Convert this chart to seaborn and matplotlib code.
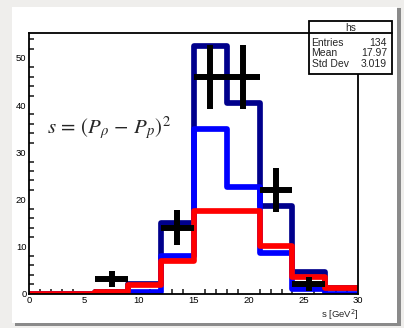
import numpy as np
import matplotlib
matplotlib.use("Agg")
import matplotlib.pyplot as plt
import seaborn as sns
from matplotlib.patches import Rectangle
from matplotlib.ticker import MultipleLocator

# ---- data ----
bin_edges = [0, 3, 6, 9, 12, 15, 18, 21, 24, 27, 30]
bin_centers = [1.5, 4.5, 7.5, 10.5, 13.5, 16.5, 19.5, 22.5, 25.5, 28.5]
total_counts = [0, 0, 0.4, 2.1, 15, 52.5, 40.5, 18.5, 4.5, 1.2]
blue_counts = [0, 0, 0, 0.4, 8, 35, 22.5, 8.5, 1, 0]
red_counts = [0, 0, 0.4, 1.7, 7, 17.5, 17.5, 10, 3.5, 1.2]
data_x = [7.5, 13.5, 16.5, 19.5, 22.5, 25.5]
data_y = [3, 14, 46, 46, 22, 2]
data_yerr = [1.7, 3.7, 6.8, 6.8, 4.7, 1.4]
data_xerr = [1.5, 1.5, 1.5, 1.5, 1.5, 1.5]
stat_labels = ["Entries", "Mean", "Std Dev"]
stat_values = ["134", "17.97", "3.019"]
x_ticks = [0, 5, 10, 15, 20, 25, 30]
y_ticks = [0, 10, 20, 30, 40, 50]

sns.set_style("white")
plt.rcParams['font.family'] = ['Liberation Sans', 'DejaVu Sans']

W, H = 404, 328
fig = plt.figure(figsize=(W / 100, H / 100), dpi=100)
fig.patch.set_facecolor("#efeeec")

# card with shadow
fig.patches.append(Rectangle((15 / W, 1 - 326 / H), 386 / W, 318 / H,
                             transform=fig.transFigure, facecolor="#8a8a8a",
                             edgecolor="none", zorder=-2))
fig.patches.append(Rectangle((12 / W, 1 - 323 / H), 385 / W, 316 / H,
                             transform=fig.transFigure, facecolor="white",
                             edgecolor="none", zorder=-1))

ax = fig.add_axes([29.3 / W, 1 - 293.5 / H, (358.3 - 29.3) / W, (293.5 - 32.5) / H])
ax.set_zorder(1)
ax.set_facecolor("none")

lw = 4.1
for counts, col in [(total_counts, "#00008c"), (blue_counts, "#0000ff"), (red_counts, "#ff0000")]:
    sns.histplot(x=bin_centers, weights=counts, bins=bin_edges, element="step",
                 fill=False, color=col, linewidth=lw, ax=ax)

ax.errorbar(data_x, data_y, xerr=data_xerr, yerr=data_yerr, fmt="none",
            ecolor="black", elinewidth=4.3, capsize=0, zorder=5)

ax.set_xlim(0, 30)
ax.set_ylim(0, 55.4)
ax.set_ylabel("")
ax.set_xlabel("")
ax.set_xticks(x_ticks)
ax.set_yticks(y_ticks)
ax.xaxis.set_minor_locator(MultipleLocator(1))
ax.yaxis.set_minor_locator(MultipleLocator(2))
ax.tick_params(axis="both", which="major", direction="in", length=7, width=1.2,
               labelsize=6.8, colors="black", pad=2, top=False, right=False)
ax.tick_params(axis="both", which="minor", direction="in", length=3.5, width=1.2,
               top=False, right=False, bottom=True, left=True)
ax.tick_params(axis="x", which="major", pad=1.5)
ax.tick_params(axis="y", which="major", pad=2)
for s in ax.spines.values():
    s.set_visible(True)
    s.set_color("black")
    s.set_linewidth(1.3)

ax.text(1.0, -0.055, r"s [GeV$^{2}$]", transform=ax.transAxes, ha="right",
        va="top", fontsize=6.8)

fig.text(47 / W, 1 - 128 / H, r"$s\,=\,(P_{\rho}\,-\,P_{p})^{2}$",
         ha="left", va="center", fontsize=15, math_fontfamily="stix", zorder=12)

# stats box
bx0, bx1, by0, by1 = 309, 391.5, 21, 73.5
fig.patches.append(Rectangle((bx0 / W, 1 - by1 / H), (bx1 - bx0) / W, (by1 - by0) / H,
                             transform=fig.transFigure, facecolor="white",
                             edgecolor="black", linewidth=1.3, zorder=10))
fig.add_artist(plt.Line2D([bx0 / W, bx1 / W], [1 - 33 / H, 1 - 33 / H],
                          transform=fig.transFigure, color="black", linewidth=1.3, zorder=11))
fig.text((bx0 + bx1) / 2 / W, 1 - 28 / H, "hs", ha="center", va="center", fontsize=7.3, zorder=12)
row_y = [42.5, 53.3, 63.8]
for lab, val, yy in zip(stat_labels, stat_values, row_y):
    fig.text(311.5 / W, 1 - yy / H, lab, ha="left", va="center", fontsize=7.5, zorder=12)
    fig.text(387 / W, 1 - yy / H, val, ha="right", va="center", fontsize=7.5, zorder=12)

fig.savefig("out.png", dpi=100, facecolor=fig.get_facecolor())
